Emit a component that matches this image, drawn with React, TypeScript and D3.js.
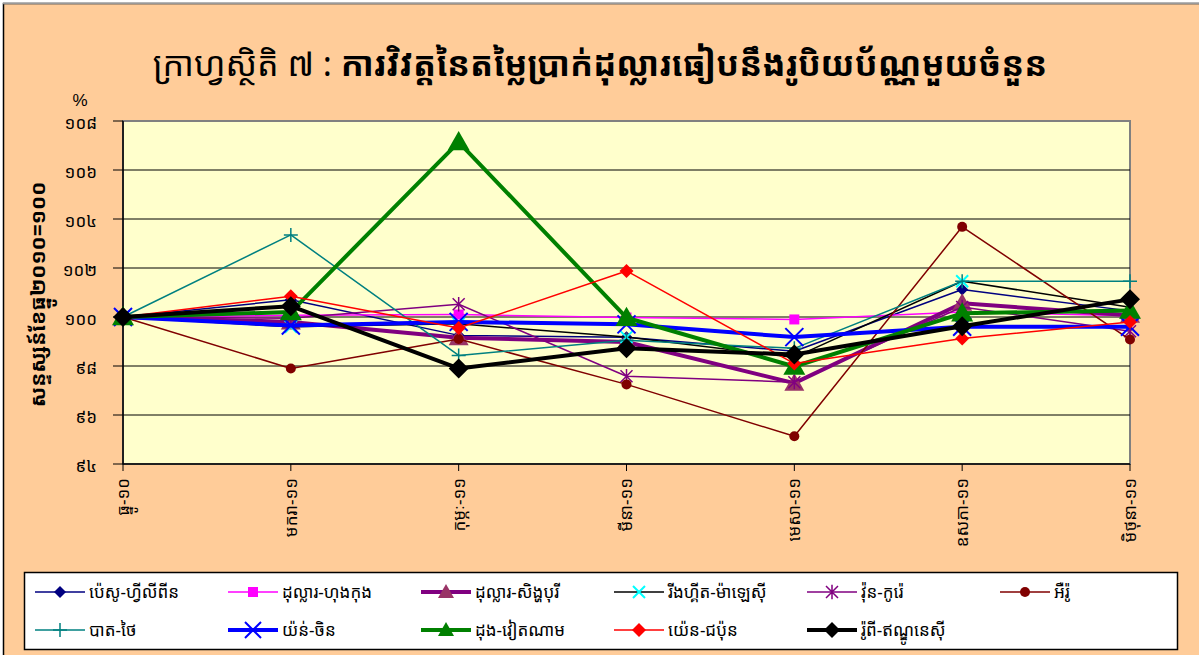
import React from 'react';
import * as d3 from 'd3';

const months = ['ធ្នូ-១០', 'មករា-១១', 'កុម្ភៈ-១១', 'មីនា-១១', 'មេសា-១១', 'ឧសភា-១១', 'មិថុនា-១១'];
const yTicks = [94, 96, 98, 100, 102, 104, 106, 108];

// index, Dec-10 = 100
const peso = [100, 100.7, 99.25, 99.17, 98.6, 101.12, 100.25];
const hkd = [100, 100.07, 100.1, 99.98, 99.9, 100.2, 100.05];
const sgd = [100, 99.8, 99.15, 98.98, 97.3, 100.56, 100.07];
const ringgit = [100, 99.6, 99.72, 99.18, 98.35, 101.46, 100.4];
const won = [100, 99.95, 100.52, 97.58, 97.34, 100.41, 99.42];
const euro = [100, 97.9, 99.1, 97.25, 95.13, 103.68, 99.08];
const baht = [100, 103.35, 98.43, 99.05, 98.72, 101.46, 101.46];
const yuan = [100, 99.65, 99.8, 99.7, 99.18, 99.6, 99.6];
const dong = [100, 100.2, 107.14, 99.97, 97.98, 100.15, 100.27];
const yen = [100, 100.85, 99.55, 101.88, 98.1, 99.12, 99.8];
const rupiah = [100, 100.44, 97.9, 98.72, 98.47, 99.62, 100.72];

type Marker = 'diamond' | 'square' | 'triangle' | 'x' | 'star' | 'circle' | 'plus';

interface Series {
  name: string;
  values: number[];
  color: string;
  width: number;
  marker: Marker;
  mColor: string;
  mSize: number;
}

const series: Series[] = [
  { name: 'ប៉េសូ-ហ្វីលីពីន', values: peso, color: '#000080', width: 1.5, marker: 'diamond', mColor: '#000080', mSize: 6 },
  { name: 'ដុល្លារ-ហុងកុង', values: hkd, color: '#FF00FF', width: 1.5, marker: 'square', mColor: '#FF00FF', mSize: 5 },
  { name: 'ដុល្លារ-សិង្ហបុរី', values: sgd, color: '#800080', width: 4, marker: 'triangle', mColor: '#993366', mSize: 10 },
  { name: 'រីងហ្គីត-ម៉ាឡេស៊ី', values: ringgit, color: '#000000', width: 1.5, marker: 'x', mColor: '#00FFFF', mSize: 6 },
  { name: 'វ៉ុន-កូរ៉េ', values: won, color: '#800080', width: 1.5, marker: 'star', mColor: '#800080', mSize: 6 },
  { name: 'អឺរ៉ូ', values: euro, color: '#800000', width: 1.5, marker: 'circle', mColor: '#800000', mSize: 5 },
  { name: 'បាត-ថៃ', values: baht, color: '#008080', width: 1.5, marker: 'plus', mColor: '#008080', mSize: 7 },
  { name: 'យ៉ន់-ចិន', values: yuan, color: '#0000FF', width: 4, marker: 'x', mColor: '#0000FF', mSize: 9 },
  { name: 'ដុង-វៀតណាម', values: dong, color: '#008000', width: 4, marker: 'triangle', mColor: '#008000', mSize: 11 },
  { name: 'យ៉េន-ជប៉ុន', values: yen, color: '#FF0000', width: 1.5, marker: 'diamond', mColor: '#FF0000', mSize: 7 },
  { name: 'រ៉ូពី-ឥណ្ឌូនេស៊ី', values: rupiah, color: '#000000', width: 4, marker: 'diamond', mColor: '#000000', mSize: 10 },
];

const khmerDigits = (n: number) => String(n).replace(/[0-9]/g, c => '០១២៣៤៥៦៧៨៩'[+c]);
const khFont = "'Khmer OS System', 'Khmer OS', 'Noto Sans Khmer', 'Noto Serif Khmer', 'DejaVu Sans', sans-serif";

const W = 1199;
const H = 655;
const left = 123, right = 1130, top = 121, bottom = 464;

const x = d3.scalePoint<number>().domain(d3.range(months.length)).range([left, right]);
const y = d3.scaleLinear().domain([94, 108]).range([bottom, top]);

function MarkerShape({ m, cx, cy, color, size }: { m: Marker; cx: number; cy: number; color: string; size: number }) {
  const s = size;
  switch (m) {
    case 'diamond':
      return <path d={`M${cx},${cy - s}L${cx + s},${cy}L${cx},${cy + s}L${cx - s},${cy}Z`} fill={color} />;
    case 'square':
      return <rect x={cx - s} y={cy - s} width={2 * s} height={2 * s} fill={color} />;
    case 'triangle':
      return <path d={`M${cx},${cy - s}L${cx + s},${cy + s * 0.75}L${cx - s},${cy + s * 0.75}Z`} fill={color} />;
    case 'circle':
      return <circle cx={cx} cy={cy} r={s} fill={color} />;
    case 'x':
      return <path d={`M${cx - s},${cy - s}L${cx + s},${cy + s}M${cx - s},${cy + s}L${cx + s},${cy - s}`} stroke={color} strokeWidth={2} />;
    case 'plus':
      return <path d={`M${cx - s},${cy}L${cx + s},${cy}M${cx},${cy - s}L${cx},${cy + s}`} stroke={color} strokeWidth={1.5} />;
    case 'star':
      return <path d={`M${cx - s},${cy - s}L${cx + s},${cy + s}M${cx - s},${cy + s}L${cx + s},${cy - s}M${cx},${cy - s * 1.2}L${cx},${cy + s * 1.2}`} stroke={color} strokeWidth={1.5} />;
  }
  return null;
}

export default function App() {
  const line = d3.line<number>().x((_, i) => x(i)!).y(d => y(d));
  const legendRows = [series.slice(0, 6), series.slice(6)];

  return (
    <div style={{ position: 'fixed', left: 0, top: 0 }}>
      <svg width={W} height={H} style={{ display: 'block' }}>
        <rect x={3.5} y={3.5} width={W + 10} height={H + 10} fill="#FFCC99" stroke="#000" strokeWidth={1.5} />
        <line x1={3} y1={3.5} x2={W} y2={3.5} stroke="#999" strokeWidth={1.5} />

        {/* title */}
        <text x={600} y={76} textAnchor="middle" fontFamily={khFont} fontSize={34} fill="#000">
          <tspan>ក្រាហ្វស្ថិតិ ៧ : </tspan>
          <tspan fontWeight="bold">ការវិវត្តនៃតម្លៃប្រាក់ដុល្លារធៀបនឹងរូបិយប័ណ្ណមួយចំនួន</tspan>
        </text>

        {/* plot area */}
        <rect x={left} y={top} width={right - left} height={bottom - top} fill="#FFFFCC" stroke="#808080" strokeWidth={2} />
        {yTicks.filter(t => t > 94 && t < 108).map(t => (
          <line key={t} x1={left} x2={right} y1={y(t)} y2={y(t)} stroke="#000" strokeWidth={1} />
        ))}
        <line x1={left} x2={left} y1={top} y2={bottom} stroke="#000" strokeWidth={1.5} />
        <line x1={left} x2={right} y1={bottom} y2={bottom} stroke="#000" strokeWidth={1.5} />

        {/* y axis */}
        {yTicks.map(t => (
          <g key={t}>
            <line x1={left - 10} x2={left} y1={y(t)} y2={y(t)} stroke="#000" />
            <text x={left - 26} y={y(t) + 2} dy="0.35em" textAnchor="end" fontFamily={khFont} fontSize={17}>{khmerDigits(t)}</text>
          </g>
        ))}
        <text x={80} y={106} textAnchor="middle" fontFamily="Arial, 'Liberation Sans', sans-serif" fontSize={17}>%</text>
        <text transform={`translate(38,${(top + bottom) / 2 + 2}) rotate(-90)`} textAnchor="middle" dy="0.35em" fontFamily={khFont} fontSize={21} fontWeight="bold">
          សន្ទស្សន៍ខែធ្នូ២០១០=១០០
        </text>

        {/* x axis */}
        {months.map((m, i) => (
          <g key={m}>
            <line x1={x(i)} x2={x(i)} y1={bottom} y2={bottom + 7} stroke="#000" />
            <text transform={`translate(${x(i)},${bottom + 14}) rotate(-90)`} textAnchor="end" dy="0.35em" fontFamily={khFont} fontSize={17}>{m}</text>
          </g>
        ))}

        {/* series */}
        {series.map(s => (
          <g key={s.name}>
            <path d={line(s.values) || ''} fill="none" stroke={s.color} strokeWidth={s.width} strokeLinejoin="round" />
            {s.values.map((v, i) => (
              <MarkerShape key={i} m={s.marker} cx={x(i)!} cy={y(v)} color={s.mColor} size={s.mSize} />
            ))}
          </g>
        ))}

        {/* legend */}
        <rect x={24.5} y={572.5} width={1153} height={77} fill="#fff" stroke="#000" strokeWidth={1.5} />
        {legendRows.map((row, r) => row.map((s, i) => {
          const lx = 35 + i * 193;
          const ly = r === 0 ? 592 : 630;
          return (
            <g key={s.name}>
              <line x1={lx} x2={lx + 50} y1={ly} y2={ly} stroke={s.color} strokeWidth={s.width} />
              <MarkerShape m={s.marker} cx={lx + 25} cy={ly} color={s.mColor} size={Math.min(s.mSize, 8)} />
              <text x={lx + 54} y={ly} dy="0.35em" fontFamily={khFont} fontSize={17}>{s.name}</text>
            </g>
          );
        }))}
      </svg>
    </div>
  );
}
